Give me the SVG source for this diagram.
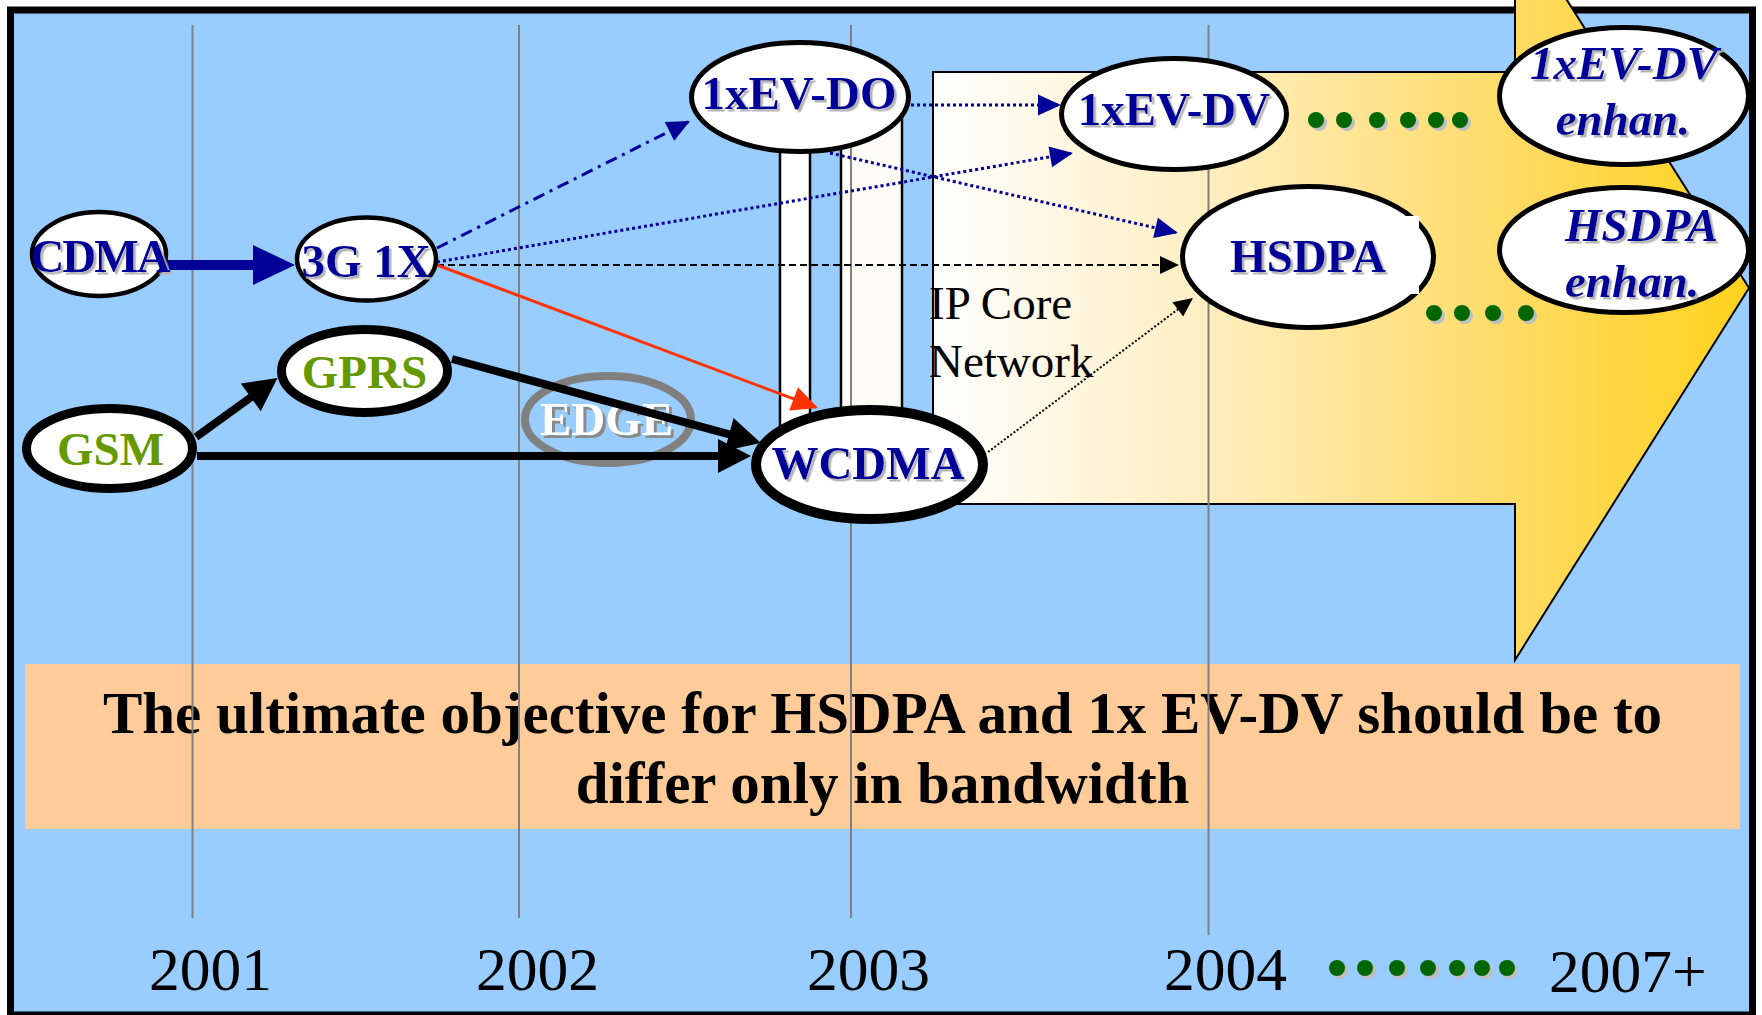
<svg xmlns="http://www.w3.org/2000/svg" width="1762" height="1015" viewBox="0 0 1762 1015">
<defs>
<style>
.lbl{font-family:"Liberation Serif","Times New Roman",serif;font-weight:bold;font-size:47px;text-anchor:middle}
.navy{fill:#000099;filter:url(#ts)}
.green{fill:#669900}
.ital{font-style:italic}
.st{text-anchor:start}
.node{fill:#ffffff;stroke:#000000}
.yr{font-family:"Liberation Serif","Times New Roman",serif;font-size:61.5px;fill:#000000}
.vl{stroke:#808080;stroke-width:2}
.dot{fill:#006600}
.dsh{fill:#bfbfbf}
.ban{font-family:"Liberation Serif","Times New Roman",serif;font-weight:bold;font-size:59px;text-anchor:middle;fill:#000000}
.ip{font-family:"Liberation Serif","Times New Roman",serif;font-size:47px;fill:#000000}
</style>
<filter id="ts" x="-10%" y="-20%" width="130%" height="150%">
<feDropShadow dx="2.5" dy="2.5" stdDeviation="0" flood-color="#b4b4b4" flood-opacity="1"/>
</filter>
<filter id="ts2" x="-10%" y="-20%" width="130%" height="150%">
<feDropShadow dx="3" dy="3" stdDeviation="0" flood-color="#8a8a8a" flood-opacity="1"/>
</filter>
<linearGradient id="yg" gradientUnits="userSpaceOnUse" x1="933" y1="0" x2="1752" y2="0">
<stop offset="0" stop-color="#ffffff"/>
<stop offset="0.35" stop-color="#ffedbd"/>
<stop offset="0.7" stop-color="#ffdb66"/>
<stop offset="1" stop-color="#ffd21a"/>
</linearGradient>
<marker id="hNavyBig" markerUnits="userSpaceOnUse" orient="auto" markerWidth="42" markerHeight="40" refX="30" refY="20" overflow="visible"><path d="M0,0 L42,20 L0,40 z" fill="#000099"/></marker>
<marker id="hBlack" markerUnits="userSpaceOnUse" orient="auto" markerWidth="33" markerHeight="34" refX="23" refY="17" overflow="visible"><path d="M0,0 L33,17 L0,34 z" fill="#000000"/></marker>
<marker id="hNavy" markerUnits="userSpaceOnUse" orient="auto" markerWidth="23" markerHeight="21" refX="21" refY="10.5" overflow="visible"><path d="M0,0 L23,10.5 L0,21 z" fill="#000099"/></marker>
<marker id="hBlackSm" markerUnits="userSpaceOnUse" orient="auto" markerWidth="19" markerHeight="18" refX="17" refY="9" overflow="visible"><path d="M0,0 L19,9 L0,18 z" fill="#000000"/></marker>
<marker id="hRed" markerUnits="userSpaceOnUse" orient="auto" markerWidth="26" markerHeight="25" refX="24" refY="12.5" overflow="visible"><path d="M0,0 L26,12.5 L0,25 z" fill="#ff3300"/></marker>
</defs>

<rect x="0" y="0" width="1762" height="1015" fill="#ffffff"/>
<rect id="frame" x="10.5" y="10" width="1742" height="1005" fill="#99ccff" stroke="#000000" stroke-width="7"/>

<polygon id="bigArrow" points="933,72 1515,72 1515,-82 1749,288 1515,660 1515,504 933,504" fill="url(#yg)" stroke="#000000" stroke-width="2"/>

<g id="pipes">
<rect x="780" y="110" width="30" height="330" fill="#ffffff" stroke="#000000" stroke-width="2.5"/>
<rect x="841" y="110" width="61" height="330" fill="#fdfbf5" stroke="#000000" stroke-width="2.5"/>
</g>

<g id="banner">
<rect x="25" y="664" width="1715" height="165" fill="#ffcc99"/>
<text class="ban" x="882.5" y="733">The ultimate objective for HSDPA and 1x EV-DV should be to</text>
<text class="ban" x="882.5" y="803">differ only in bandwidth</text>
</g>

<g id="timeline">
<line class="vl" x1="192.5" y1="25" x2="192.5" y2="918"/>
<line class="vl" x1="519" y1="25" x2="519" y2="918"/>
<line class="vl" x1="851" y1="25" x2="851" y2="918"/>
<line class="vl" x1="1208.5" y1="25" x2="1208.5" y2="935"/>
<text class="yr" x="149" y="990">2001</text>
<text class="yr" x="476" y="990">2002</text>
<text class="yr" x="807" y="990">2003</text>
<text class="yr" x="1164" y="990">2004</text>
<text class="yr" x="1549" y="992">2007+</text>
</g>

<g id="ipcore">
<text class="ip" x="929" y="319">IP Core</text>
<text class="ip" x="929" y="377">Network</text>
</g>

<g id="dots">
<g transform="translate(3,3)">
<circle class="dsh" cx="1316" cy="120" r="8"/><circle class="dsh" cx="1344" cy="120" r="8"/><circle class="dsh" cx="1377" cy="120" r="8"/><circle class="dsh" cx="1408" cy="120" r="8"/><circle class="dsh" cx="1436" cy="120" r="8"/><circle class="dsh" cx="1460" cy="120" r="8"/>
<circle class="dsh" cx="1434" cy="313" r="8"/><circle class="dsh" cx="1462" cy="313" r="8"/><circle class="dsh" cx="1493" cy="313" r="8"/><circle class="dsh" cx="1526" cy="313" r="8"/>
<circle class="dsh" cx="1337" cy="968" r="8"/><circle class="dsh" cx="1365" cy="968" r="8"/><circle class="dsh" cx="1397" cy="968" r="8"/><circle class="dsh" cx="1428" cy="968" r="8"/><circle class="dsh" cx="1457" cy="968" r="8"/><circle class="dsh" cx="1482" cy="968" r="8"/><circle class="dsh" cx="1507" cy="968" r="8"/>
</g>
<circle class="dot" cx="1316" cy="120" r="8"/><circle class="dot" cx="1344" cy="120" r="8"/><circle class="dot" cx="1377" cy="120" r="8"/><circle class="dot" cx="1408" cy="120" r="8"/><circle class="dot" cx="1436" cy="120" r="8"/><circle class="dot" cx="1460" cy="120" r="8"/>
<circle class="dot" cx="1434" cy="313" r="8"/><circle class="dot" cx="1462" cy="313" r="8"/><circle class="dot" cx="1493" cy="313" r="8"/><circle class="dot" cx="1526" cy="313" r="8"/>
<circle class="dot" cx="1337" cy="968" r="8"/><circle class="dot" cx="1365" cy="968" r="8"/><circle class="dot" cx="1397" cy="968" r="8"/><circle class="dot" cx="1428" cy="968" r="8"/><circle class="dot" cx="1457" cy="968" r="8"/><circle class="dot" cx="1482" cy="968" r="8"/><circle class="dot" cx="1507" cy="968" r="8"/>
</g>

<g id="node-EDGE">
<ellipse cx="608" cy="419.5" rx="83" ry="43.5" fill="none" stroke="#808080" stroke-width="8"/>
<text class="lbl" x="606.5" y="435" fill="#ffffff" filter="url(#ts2)">EDGE</text>
</g>

<g id="connectors">
<line x1="167" y1="265" x2="283" y2="265" stroke="#000099" stroke-width="10" marker-end="url(#hNavyBig)"/>
<line x1="196" y1="437" x2="269.4" y2="383.9" stroke="#000000" stroke-width="8" marker-end="url(#hBlack)"/>
<line x1="197" y1="456" x2="741" y2="456" stroke="#000000" stroke-width="8" marker-end="url(#hBlack)"/>
<line x1="452" y1="359" x2="751.3" y2="440.4" stroke="#000000" stroke-width="8" marker-end="url(#hBlack)"/>
<line x1="437" y1="248" x2="688.2" y2="121.9" stroke="#000099" stroke-width="3" stroke-dasharray="12 6 3 6" marker-end="url(#hNavy)"/>
<line x1="437" y1="262" x2="1071" y2="153.3" stroke="#000099" stroke-width="3" stroke-dasharray="3 3" marker-end="url(#hNavy)"/>
<line x1="911" y1="105" x2="1059" y2="105" stroke="#000099" stroke-width="3" stroke-dasharray="3 3" marker-end="url(#hNavy)"/>
<line x1="830" y1="153" x2="1176" y2="232.6" stroke="#000099" stroke-width="3" stroke-dasharray="3 3" marker-end="url(#hNavy)"/>
<line x1="437" y1="265" x2="1177" y2="265" stroke="#000000" stroke-width="1.8" stroke-dasharray="7 4" marker-end="url(#hBlackSm)"/>
<line x1="988" y1="452" x2="1191.4" y2="299.2" stroke="#000000" stroke-width="2" stroke-dasharray="2 2" marker-end="url(#hBlackSm)"/>
<line x1="437" y1="265" x2="816.1" y2="407.3" stroke="#ff3300" stroke-width="3" marker-end="url(#hRed)"/>
</g>

<g id="node-CDMA">
<ellipse class="node" cx="99" cy="254" rx="67" ry="42" stroke-width="4.5"/>
<text class="lbl navy" x="99.5" y="272" letter-spacing="-2">CDMA</text>
</g>
<g id="node-3G1X">
<ellipse class="node" cx="366.5" cy="259" rx="69.5" ry="41.5" stroke-width="4.5"/>
<text class="lbl navy" x="366" y="277">3G 1X</text>
</g>
<g id="node-GSM">
<ellipse class="node" cx="109.5" cy="448.5" rx="83" ry="40" stroke-width="9"/>
<text class="lbl green" x="110.5" y="465">GSM</text>
</g>
<g id="node-GPRS">
<ellipse class="node" cx="364.5" cy="371" rx="83" ry="41.5" stroke-width="9"/>
<text class="lbl green" x="364.5" y="388">GPRS</text>
</g>
<g id="node-WCDMA">
<ellipse class="node" cx="869.5" cy="464.5" rx="113.5" ry="54.5" stroke-width="10"/>
<text class="lbl navy" x="868" y="479">WCDMA</text>
</g>
<g id="node-1xEV-DO">
<ellipse class="node" cx="800" cy="97" rx="108.5" ry="54.5" stroke-width="5"/>
<text class="lbl navy" x="799" y="109">1xEV-DO</text>
</g>
<g id="node-1xEV-DV">
<ellipse class="node" cx="1174" cy="114" rx="112.5" ry="55.5" stroke-width="5"/>
<text class="lbl navy" x="1174" y="125">1xEV-DV</text>
</g>
<g id="node-HSDPA">
<ellipse class="node" cx="1308" cy="257" rx="125.5" ry="70.5" stroke-width="5"/>
<rect x="1393" y="216" width="26" height="78" fill="#ffffff"/>
<text class="lbl navy" x="1308" y="272">HSDPA</text>
</g>
<g id="node-1xEV-DV-enhan">
<ellipse class="node" cx="1624" cy="96" rx="124.5" ry="68.5" stroke-width="5"/>
<text class="lbl navy ital" x="1624" y="79">1xEV-DV</text>
<text class="lbl navy ital" x="1623" y="135">enhan.</text>
</g>
<g id="node-HSDPA-enhan">
<ellipse class="node" cx="1624" cy="250" rx="124.5" ry="62.5" stroke-width="5"/>
<text class="lbl navy ital st" x="1565" y="241">HSDPA</text>
<text class="lbl navy ital st" x="1565" y="297">enhan.</text>
</g>
</svg>
